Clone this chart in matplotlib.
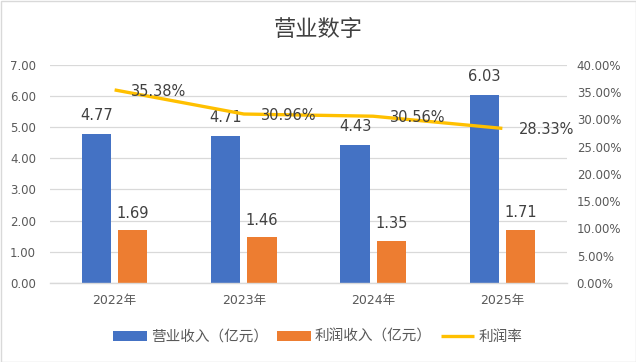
import matplotlib
matplotlib.use("Agg")
import matplotlib.pyplot as plt
import numpy as np
from matplotlib.patches import Rectangle
from matplotlib.ticker import FuncFormatter, MultipleLocator

plt.rcParams['font.family'] = ['DejaVu Sans', 'Noto Sans CJK SC']

categories = ["2022年", "2023年", "2024年", "2025年"]
revenue = [4.77, 4.71, 4.43, 6.03]
profit = [1.69, 1.46, 1.35, 1.71]
margin = [35.38, 30.96, 30.56, 28.33]
title = "营业数字"
series_names = ["营业收入（亿元）", "利润收入（亿元）", "利润率"]

BLUE = "#4472C4"
ORANGE = "#ED7D31"
YELLOW = "#FFC000"
TXT = "#595959"
GRID = "#D9D9D9"

fig = plt.figure(figsize=(6.36, 3.62), dpi=100)
ax = fig.add_axes([0.0786, 0.2182, 0.8129, 0.6031])
ax2 = ax.twinx()

x = np.arange(len(categories))
w = 0.225
off = 0.14
b1 = ax.bar(x - off, revenue, w, color=BLUE, zorder=2, label=series_names[0])
b2 = ax.bar(x + off, profit, w, color=ORANGE, zorder=2, label=series_names[1])

ax.set_xlim(-0.5, len(categories) - 0.5)
ax.set_ylim(0, 7)
ax.yaxis.set_major_locator(MultipleLocator(1))
ax.yaxis.set_major_formatter(FuncFormatter(lambda v, p: f"{v:.2f}"))
ax.grid(axis='y', color=GRID, lw=0.9, zorder=0)
ax.set_axisbelow(True)
for s in ax.spines.values():
    s.set_visible(False)
ax.spines['bottom'].set_visible(True)
ax.spines['bottom'].set_color(GRID)
ax.spines['bottom'].set_linewidth(1.0)
ax.set_xticks(x)
ax.set_xticklabels(categories)
ax.tick_params(axis='x', length=0, pad=8, colors=TXT, labelsize=9)
ax.tick_params(axis='y', length=0, pad=10, colors=TXT, labelsize=8.5)

line, = ax2.plot(x, margin, color=YELLOW, lw=2.4, zorder=3, label=series_names[2],
                 solid_capstyle='butt')
ax2.set_ylim(0, 40)
ax2.yaxis.set_major_locator(MultipleLocator(5))
ax2.yaxis.set_major_formatter(FuncFormatter(lambda v, p: f"{v:.2f}%"))
for s in ax2.spines.values():
    s.set_visible(False)
ax2.tick_params(axis='y', length=0, pad=7, colors=TXT, labelsize=8.5)

for xi, v in zip(x - off, revenue):
    ax.annotate(f"{v:.2f}", (xi, v), xytext=(0, 8), textcoords='offset points',
                ha='center', va='bottom', fontsize=10.5, color="#404040")
for xi, v in zip(x + off, profit):
    ax.annotate(f"{v:.2f}", (xi, v), xytext=(0, 7), textcoords='offset points',
                ha='center', va='bottom', fontsize=10.5, color="#404040")
for xi, v in zip(x, margin):
    ax2.annotate(f"{v:.2f}%", (xi, v), xytext=(12, -1), textcoords='offset points',
                 ha='left', va='center', fontsize=10.5, color="#404040")

fig.text(0.5, 1 - 29 / 362, title, ha='center', va='center', fontsize=16,
         color="#404040", family=['Noto Sans CJK SC'])

leg = fig.legend(handles=[b1, b2, line], labels=series_names, loc='center',
                 bbox_to_anchor=(0.5, 1 - 337 / 362), ncol=3, frameon=False,
                 prop={'family': ['Noto Sans CJK SC'], 'size': 10.5},
                 handlelength=2.3, handleheight=0.7, columnspacing=0.6,
                 handletextpad=0.3, labelcolor=TXT)

fig.patches.append(Rectangle((0.5 / 636, 0.5 / 362), 1 - 1 / 636, 1 - 1 / 362,
                             transform=fig.transFigure, fill=False,
                             edgecolor=GRID, lw=1.0))

fig.savefig("out.png", dpi=100)
